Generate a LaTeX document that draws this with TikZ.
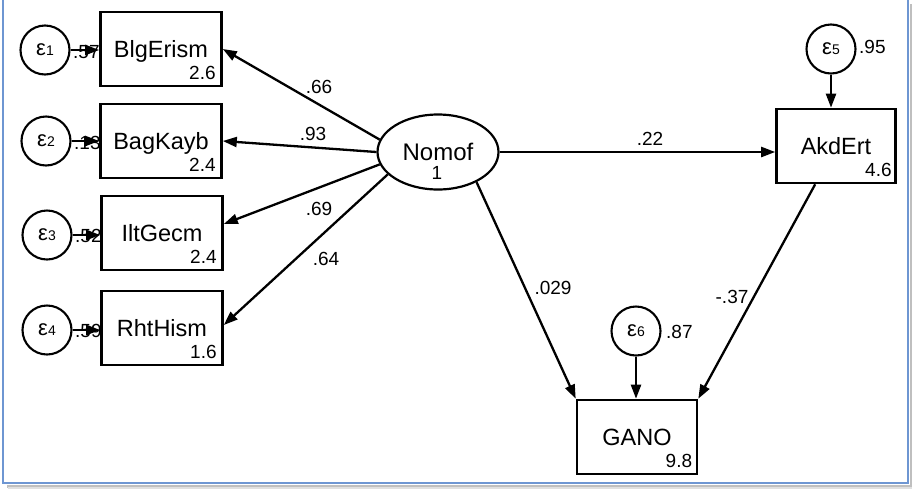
\documentclass[tikz,border=0pt]{standalone}
\usepackage{fontspec}
\setmainfont{Liberation Sans}
\usetikzlibrary{arrows.meta,shapes.geometric,calc}
\definecolor{framecol}{RGB}{110,150,210}
\newcommand\epsl[1]{{\fontsize{22}{22}\selectfont ε}{\fontsize{14}{14}\selectfont #1}}
\begin{document}
\begin{tikzpicture}[x=1pt,y=-1pt,
  obs/.style={draw,line width=2.6pt,minimum width=121pt,minimum height=74pt,inner sep=0pt,text depth=0pt,font=\fontsize{23.5}{23.5}\selectfont},
  err/.style={draw,circle,line width=2.1pt,minimum size=49pt,inner sep=0pt},
  lat/.style={draw,ellipse,line width=2.2pt,minimum width=121pt,minimum height=75pt,inner sep=0pt,font=\fontsize{24}{24}\selectfont},
  arr/.style={line width=2.3pt,-{Triangle[length=14pt,width=10pt]}},
  val/.style={font=\fontsize{19}{19}\selectfont,inner sep=0pt},
  coef/.style={font=\fontsize{19}{19}\selectfont,inner sep=0pt}
]
\useasboundingbox (0,0) rectangle (912,488);
% frame with shadow
\draw[black!25, line width=3pt] (7,486) -- (911,486) -- (911,4);
\draw[black!12, line width=2pt] (8,488) -- (912,488);
\draw[framecol, line width=1.6pt] (3,-5) rectangle (908,483);

% observed variables
\node[obs] (blg) at (161,49) {BlgErism};
\node[obs] (bag) at (161,141) {BagKayb};
\node[obs] (ilt) at (162,233) {IltGecm};
\node[obs] (rht) at (162,328) {RhtHism};
\node[lat] (nom) at (438,152) {Nomof};
\node[obs,minimum width=119pt] (akd) at (836,146) {AkdErt};
\node[obs,minimum width=120pt] (gano) at (637,437) {GANO};

% intercepts / variances in boxes
\node[val,anchor=base east] (v1) at ($(blg.south east)+(-7,-8)$) {2.6};
\node[val,anchor=base east] (v2) at ($(bag.south east)+(-7,-8)$) {2.4};
\node[val,anchor=base east] (v3) at ($(ilt.south east)+(-7,-8)$) {2.4};
\node[val,anchor=base east] (v4) at ($(rht.south east)+(-7,-8)$) {1.6};
\node[val,anchor=base east] (v5) at ($(akd.south east)+(-5,-8)$) {4.6};
\node[val,anchor=base east] (v6) at ($(gano.south east)+(-6,-8)$) {9.8};
\node[val] (v0) at (437,173) {1};

% error terms
\node[err] (e1) at (45,50) {\epsl{1}};
\node[err] (e2) at (46,141) {\epsl{2}};
\node[err] (e3) at (47,235) {\epsl{3}};
\node[err] (e4) at (47,330) {\epsl{4}};
\node[err] (e5) at (831,49) {\epsl{5}};
\node[err] (e6) at (636,331) {\epsl{6}};

% error variance labels
\node[coef,anchor=west] (l1) at (73,52) {.57};
\node[coef,anchor=west] (l2) at (74,143) {.13};
\node[coef,anchor=west] (l3) at (75,236) {.52};
\node[coef,anchor=west] (l4) at (75,331) {.59};
\node[coef,anchor=west] (l5) at (859,47) {.95};
\node[coef,anchor=west] (l6) at (666,332) {.87};

% error arrows
\draw[arr] (e1.east) -- (e1.east -| blg.west);
\draw[arr] (e2.east) -- (e2.east -| bag.west);
\draw[arr] (e3.east) -- (e3.east -| ilt.west);
\draw[arr] (e4.east) -- (e4.east -| rht.west);
\draw[arr] (e5.south) -- (e5.south |- akd.north);
\draw[arr] (e6.south) -- (e6.south |- gano.north);

% structural paths
\draw[arr] (nom.168) -- (blg.east);
\draw[arr] (nom.180) -- (bag.east);
\draw[arr] (nom.192) -- ([yshift=9pt]ilt.east);
\draw[arr] (nom.204) -- ([yshift=3pt]rht.east);
\draw[arr] (nom.east) -- (nom.east -| akd.west);
\draw[arr] (nom.-38) -- (gano.north west);
\draw[arr] (akd) -- (gano.north east);

% path coefficients
\node[coef] (c1) at (319,87) {.66};
\node[coef] (c2) at (313,134) {.93};
\node[coef] (c3) at (319,209) {.69};
\node[coef] (c4) at (326,259) {.64};
\node[coef] (c5) at (650,139) {.22};
\node[coef] (c6) at (553,288) {.029};
\node[coef] (c7) at (732,297) {-.37};
\end{tikzpicture}
\end{document}
